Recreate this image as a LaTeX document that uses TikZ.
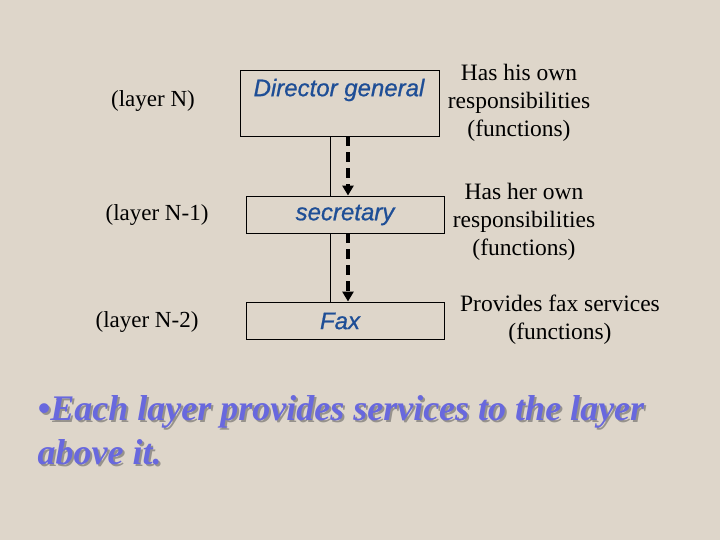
\documentclass[tikz,border=0pt]{standalone}
\usepackage{fontspec}
\setmainfont{Liberation Serif}
\newfontfamily\arialf[FakeBold=0.8]{Liberation Sans}
\usetikzlibrary{arrows.meta}
\definecolor{bg}{RGB}{222,214,202}
\definecolor{boxblue}{RGB}{30,78,150}
\definecolor{bullblue}{RGB}{104,104,222}
\definecolor{shadowgray}{RGB}{150,146,140}
\tikzset{
  layerbox/.style={draw=black, line width=0.9pt, inner sep=0pt},
  boxtext/.style={font=\arialf\itshape\fontsize{24}{28}\selectfont, text=boxblue, inner sep=0pt},
  layerlbl/.style={font=\fontsize{23}{28}\selectfont, inner sep=0pt},
  resp/.style={font=\fontsize{23.5}{28}\selectfont, align=center, inner sep=0pt},
  thinline/.style={line width=0.9pt},
  dasharrow/.style={line width=3.5pt, dash pattern=on 10pt off 6pt, -{Triangle[width=11pt,length=10pt]}},
  bulltext/.style={font=\bfseries\itshape\fontsize{36}{44}\selectfont, align=left, anchor=north west, inner sep=0pt}
}
\begin{document}
\begin{tikzpicture}[x=1pt,y=-1pt]
\fill[bg] (0,0) rectangle (720,540);
\useasboundingbox (0,0) rectangle (720,540);
% boxes
\node[layerbox, minimum width=199pt, minimum height=66pt] (dg) at (339.5,103) {};
\node[layerbox, minimum width=198pt, minimum height=37pt] (sec) at (345,214.5) {};
\node[layerbox, minimum width=198pt, minimum height=37pt] (fax) at (345,320.5) {};
\node[boxtext] (dgt) at (339,90) {Director general};
\node[boxtext] (sect) at (345,215) {secretary};
\node[boxtext] (faxt) at (340,321) {Fax};
% connectors
\coordinate (lx) at (330,0);
\coordinate (ax) at (348,0);
\draw[thinline] (dg.south -| lx) -- (sec.north -| lx);
\draw[thinline] (sec.south -| lx) -- (fax.north -| lx);
\draw[dasharrow] (dg.south -| ax) -- (sec.north -| ax);
\draw[dasharrow] (sec.south -| ax) -- (fax.north -| ax);
% layer labels
\node[layerlbl] (ln) at (153,101) {(layer N)};
\node[layerlbl] (ln1) at (157,215) {(layer N-1)};
\node[layerlbl] (ln2) at (147,322) {(layer N-2)};
% responsibilities
\node[resp] (r1) at (519,103) {Has his own\\responsibilities\\(functions)};
\node[resp] (r2) at (524,222) {Has her own\\responsibilities\\(functions)};
\node[resp] (r3) at (560,320) {Provides fax services\\(functions)};
% bullet
\node[bulltext, text=shadowgray] (bshadow) at (39.5,397.5) {\textbullet Each layer provides services to the layer\\above it.};
\node[bulltext, text=bullblue] (bullet) at (37.5,395.5) {\textbullet Each layer provides services to the layer\\above it.};
\end{tikzpicture}
\end{document}
